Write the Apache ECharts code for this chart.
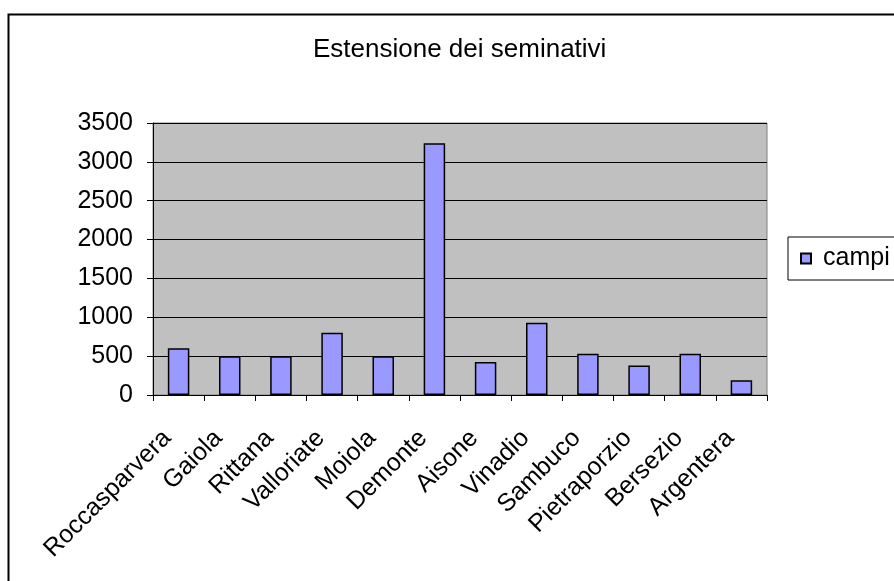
<!DOCTYPE html>
<html>
<head>
<meta charset="utf-8">
<style>
  html, body { margin: 0; padding: 0; background: #ffffff; }
  #chart { width: 894px; height: 581px; }
</style>
<script src="https://cdn.jsdelivr.net/npm/echarts@6/dist/echarts.min.js"></script>
</head>
<body>
<div id="chart"></div>
<script>
// Arable land extent by municipality
const comuni = ['Roccasparvera', 'Gaiola', 'Rittana', 'Valloriate', 'Moiola', 'Demonte',
                'Aisone', 'Vinadio', 'Sambuco', 'Pietraporzio', 'Bersezio', 'Argentera'];
const campi = [600, 500, 500, 800, 500, 3240, 425, 930, 530, 380, 530, 190];
const seriesName = 'campi';
const titolo = 'Estensione dei seminativi';

const FONT = '"Liberation Sans", Arial, sans-serif';

const chart = echarts.init(document.getElementById('chart'), null, { renderer: 'canvas' });

chart.setOption({
  animation: false,
  backgroundColor: '#ffffff',
  graphic: [
    {
      type: 'rect',
      left: 6, top: 12,
      shape: { width: 920, height: 620 },
      style: { fill: 'none', stroke: '#000000', lineWidth: 2 },
      silent: true, z: -1
    }
  ],
  title: {
    text: titolo,
    left: 308,
    top: 32,
    textStyle: { fontFamily: FONT, fontSize: 26, fontWeight: 'normal', color: '#000000' }
  },
  legend: {
    data: [{ name: seriesName, icon: 'rect' }],
    orient: 'vertical',
    left: 788,
    top: 237,
    padding: [9, 40, 9, 12],
    itemWidth: 10,
    itemHeight: 10,
    borderColor: '#000000',
    borderWidth: 1,
    backgroundColor: '#ffffff',
    textStyle: { fontFamily: FONT, fontSize: 25, color: '#000000', padding: [0, 0, 0, 7] }
  },
  grid: {
    left: 153,
    right: 127,
    top: 123,
    bottom: 186,
    show: true,
    backgroundColor: '#c0c0c0',
    borderColor: '#808080',
    borderWidth: 1
  },
  xAxis: {
    type: 'category',
    data: comuni,
    axisLine: { show: true, lineStyle: { color: '#000000', width: 1 } },
    axisTick: { show: true, length: 6, lineStyle: { color: '#000000' } },
    axisLabel: {
      rotate: 45,
      margin: 28,
      interval: 0,
      padding: [0, 16, 0, 0],
      fontFamily: FONT,
      fontSize: 25,
      color: '#000000'
    }
  },
  yAxis: {
    type: 'value',
    min: 0,
    max: 3500,
    interval: 500,
    axisLine: { show: true, lineStyle: { color: '#000000', width: 1 } },
    axisTick: { show: true, length: 6, lineStyle: { color: '#000000' } },
    axisLabel: {
      margin: 20,
      fontFamily: FONT,
      fontSize: 25,
      color: '#000000',
      formatter: function (v) { return String(v); }
    },
    splitLine: { show: true, lineStyle: { color: '#000000', width: 1 } }
  },
  series: [
    {
      name: seriesName,
      type: 'bar',
      data: campi,
      barWidth: '42%',
      itemStyle: { color: '#9999ff', borderColor: '#000000', borderWidth: 1.5 }
    }
  ]
});
</script>
</body>
</html>
